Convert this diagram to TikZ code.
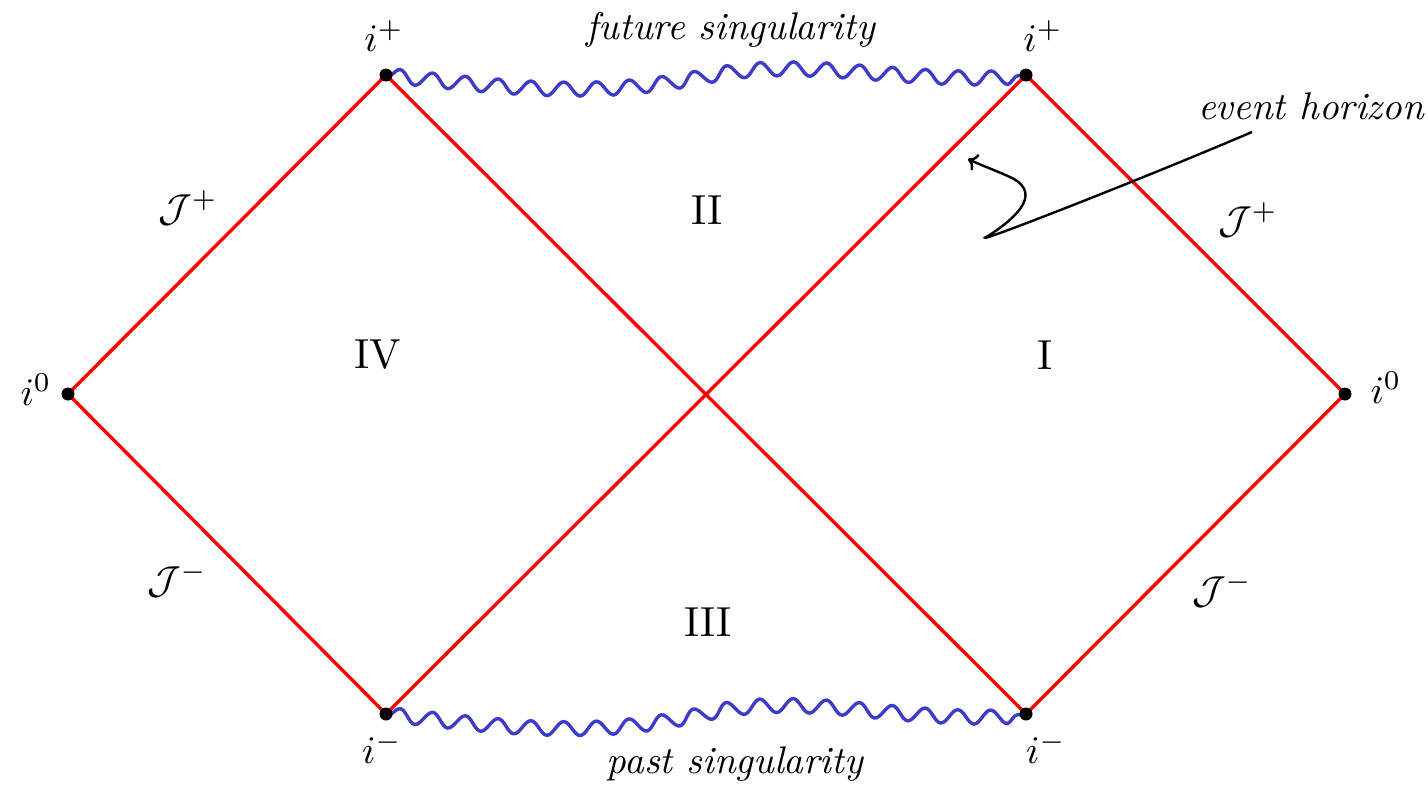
\documentclass[tikz,border=0pt]{standalone}
\usetikzlibrary{decorations.pathmorphing,arrows.meta}
\begin{document}
\begin{tikzpicture}[x=1pt,y=-1pt,
  dot/.style={circle,fill=black,inner sep=0pt,minimum size=13pt},
  horizon/.style={red,line width=3.4pt},
  sing/.style={draw={rgb,255:red,60;green,60;blue,200},line width=3.4pt,decorate,
    decoration={snake,amplitude=7pt,segment length=33pt,pre length=3pt,post length=3pt}},
  lab/.style={scale=3.9},
  itl/.style={scale=3.85,font=\itshape},
  reg/.style={scale=4.2}]
\useasboundingbox (0,0) rectangle (1428,787);
\coordinate (l0) at (68,394);
\coordinate (tl) at (386,75);
\coordinate (tr) at (1026,75);
\coordinate (r0) at (1345,394);
\coordinate (bl) at (386,714);
\coordinate (br) at (1026,714);
\draw[horizon] (l0) -- (tl) -- (br) -- (r0) -- (tr) -- (bl) -- cycle;
\draw[sing] (tl) .. controls (520,90) and (600,95) .. (700,75) .. controls (800,55) and (900,85) .. (tr);
\draw[sing] (bl) .. controls (520,730) and (600,735) .. (700,712) .. controls (800,690) and (900,725) .. (br);
\node[dot] (nl0) at (l0) {};
\node[dot] (ntl) at (tl) {};
\node[dot] (ntr) at (tr) {};
\node[dot] (nr0) at (r0) {};
\node[dot] (nbl) at (bl) {};
\node[dot] (nbr) at (br) {};
\node[lab] (ltl) at (384,36) {$i^+$};
\node[lab] (ltr) at (1043,36) {$i^+$};
\node[lab] (lbl) at (382,748) {$i^-$};
\node[lab] (lbr) at (1046,748) {$i^-$};
\node[lab] (ll0) at (36,390) {$i^0$};
\node[lab] (lr0) at (1386,388) {$i^0$};
\node[lab] (jtl) at (188,208) {$\mathcal{J}^+$};
\node[lab] (jtr) at (1248,220) {$\mathcal{J}^+$};
\node[lab] (jbl) at (177,580) {$\mathcal{J}^-$};
\node[lab] (jbr) at (1222,590) {$\mathcal{J}^-$};
\node[itl] (fs) at (731,30) {future singularity};
\node[itl] (ps) at (735,764) {past singularity};
\node[itl] (eh) at (1311,106) {event horizon};
\node[reg] (r2) at (707,210) {II};
\node[reg] (r4) at (378,355) {IV};
\node[reg] (r1) at (1045,355) {I};
\node[reg] (r3) at (708,622) {III};
\coordinate (ehs) at (1252,132);
\coordinate (eht) at (968,159);
\draw[line width=2.4pt,-{To[length=9pt,width=18pt]}] (ehs) .. controls (1140,180) and (960,250) .. (988,236) .. controls (1010,222) and (1045,195) .. (1012,178) .. controls (995,170) and (985,167) .. (eht);
\end{tikzpicture}
\end{document}
